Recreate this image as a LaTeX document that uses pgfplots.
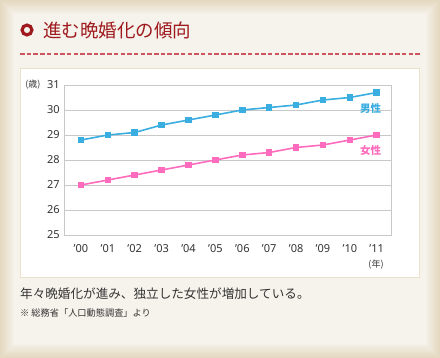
\documentclass[border=0pt]{standalone}
\usepackage{fontspec}
\setmainfont{Noto Sans}
\newfontfamily\jp{Noto Sans CJK JP}
\usepackage{pgfplots}
\pgfplotsset{compat=1.18}
\definecolor{bluec}{HTML}{3AAEE0}
\definecolor{pinkc}{HTML}{FF6CBD}
\definecolor{gridc}{HTML}{C8C8C8}
\definecolor{titlered}{HTML}{9E1A1E}
\definecolor{dashc}{HTML}{CC5560}
\definecolor{bgc}{HTML}{F6F3EC}
\definecolor{edgec}{HTML}{E4D9C0}
\definecolor{boxborder}{HTML}{EAE1CC}
\definecolor{textc}{HTML}{333333}
\pgfplotstableread{
x male female
0 28.8 27.0
1 29.0 27.2
2 29.1 27.4
3 29.4 27.6
4 29.6 27.8
5 29.8 28.0
6 30.0 28.2
7 30.1 28.3
8 30.2 28.5
9 30.4 28.6
10 30.5 28.8
11 30.7 29.0
}\agedata
\begin{document}
\begin{tikzpicture}[x=1pt,y=1pt]
\fill[edgec] (0,0) rectangle (440,358);
\foreach \i in {1,...,12}{
  \pgfmathtruncatemacro\p{\i*100/12}
  \fill[bgc!\p!edgec] (\i*1.2,\i*1.2) rectangle (440-\i*1.2,358-\i*1.2);
}
% title
\draw[titlered, line width=3.2pt] (27,328) circle (4.9);
\node[anchor=west, text=titlered, font=\jp\fontsize{18.5}{20}\selectfont, inner sep=0] at (43,328) {進む晩婚化の傾向};
\draw[dashc, line width=1.6pt, dash pattern=on 4.5pt off 2.2pt] (20,304) -- (420,304);
% white box
\draw[boxborder, fill=white, line width=0.8pt] (20.5,80.5) rectangle (419.5,289.5);
\begin{axis}[
  at={(64.3pt,123pt)}, anchor=south west,
  scale only axis, width=326.7pt, height=150pt,
  xmin=-0.62, xmax=11.53, ymin=25, ymax=31,
  ytick={25,26,...,31},
  xtick={0,...,11},
  xticklabels={'00,'01,'02,'03,'04,'05,'06,'07,'08,'09,'10,'11},
  axis line style={gridc, line width=0.8pt},
  ymajorgrids, grid style={gridc, line width=0.8pt},
  major tick length=0pt,
  tick label style={font=\fontsize{11}{13}\selectfont, text=textc},
  xticklabel style={yshift=-6pt},
  yticklabel style={xshift=-1pt},
  /pgf/number format/assume math mode=true,
  clip=false,
]
\addplot[bluec, line width=1.6pt, mark=square*, mark size=2.5pt] table[x=x, y=male] {\agedata};
\addplot[pinkc, line width=1.6pt, mark=square*, mark size=2.5pt] table[x=x, y=female] {\agedata};
\node[text=bluec, font=\jp\bfseries\fontsize{10.5}{12}\selectfont] at (axis cs:10.77,30.04) {男性};
\node[text=pinkc, font=\jp\bfseries\fontsize{10.5}{12}\selectfont] at (axis cs:10.77,28.36) {女性};
\end{axis}
\node[text=textc, font=\jp\fontsize{9}{10}\selectfont] at (33,273) {(歳)};
\node[text=textc, font=\jp\fontsize{9}{10}\selectfont] at (376,93) {(年)};
\node[anchor=west, inner sep=0, text=textc, font=\jp\fontsize{12.6}{14}\selectfont] at (20,64) {年々晩婚化が進み、独立した女性が増加している。};
\node[anchor=west, inner sep=0, text=textc, font=\jp\fontsize{9.2}{10}\selectfont] at (20,45) {※ 総務省「人口動態調査」より};
\end{tikzpicture}
\end{document}
